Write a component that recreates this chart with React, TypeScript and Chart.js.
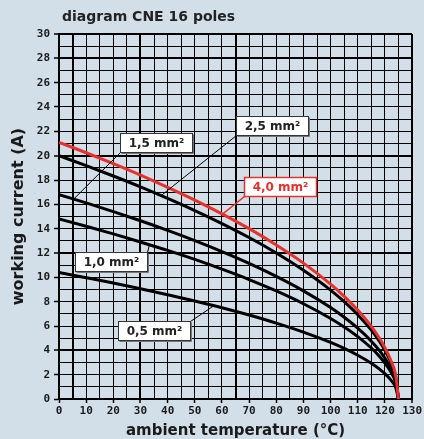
import React, { useEffect, useRef } from "react";
import { Chart, registerables } from "chart.js";

Chart.register(...registerables);

// ---- data ----
const temps = [0, 10, 20, 30, 40, 50, 60, 70, 80, 90, 100, 105, 110, 115, 118, 120, 122, 124, 125];
const cur40 = [21.1, 20.24, 19.34, 18.4, 17.4, 16.35, 15.22, 14.0, 12.66, 11.17, 9.44, 8.44, 7.31, 5.97, 4.99, 4.22, 3.27, 1.89, 0];
const cur25 = [20.0, 19.18, 18.33, 17.44, 16.49, 15.49, 14.42, 13.27, 12.0, 10.58, 8.95, 8.0, 6.93, 5.66, 4.73, 4.0, 3.1, 1.79, 0];
const cur15 = [16.8, 16.12, 15.4, 14.65, 13.86, 13.02, 12.12, 11.15, 10.08, 8.89, 7.52, 6.72, 5.82, 4.75, 3.98, 3.36, 2.6, 1.5, 0];
const cur10 = [14.8, 14.2, 13.57, 12.9, 12.21, 11.47, 10.67, 9.82, 8.88, 7.83, 6.62, 5.92, 5.13, 4.19, 3.5, 2.96, 2.29, 1.32, 0];
const cur05 = [10.4, 9.97, 9.53, 9.06, 8.57, 8.05, 7.5, 6.9, 6.24, 5.5, 4.65, 4.16, 3.6, 2.94, 2.46, 2.08, 1.61, 0.93, 0];

const seriesNames = ["4,0 mm²", "2,5 mm²", "1,5 mm²", "1,0 mm²", "0,5 mm²"];
const seriesValues = [cur40, cur25, cur15, cur10, cur05];

const titleText = "diagram CNE 16 poles";
const xTitle = "ambient temperature (°C)";
const yTitle = "working current (A)";

const xMin = 0, xMax = 130, xGridStep = 5, xLabelStep = 10;
const yMin = 0, yMax = 30, yGridStep = 1, yLabelStep = 2;

// callout boxes (in data units) and where their leader lines meet the curves
const calloutX = [81.4, 78.6, 35.7, 19.2, 35.0];
const calloutY = [17.5, 22.5, 21.1, 11.3, 5.6];
const pointerX = [60.2, 37.6, 5.4, 33.3, 57.0];
const calloutCorner = ["bl", "bl", "bl", "tr", "tr"];

// ---- styles ----
const BG = "#d3dfe8";
const RED = "#e8302c";
const thickX = [5, 30, 65, 130];
const thickY = [4, 12, 20, 28, 30];

function interp(vals: number[], t: number): number {
  for (let i = 0; i < temps.length - 1; i++) {
    if (t >= temps[i] && t <= temps[i + 1]) {
      const f = (t - temps[i]) / (temps[i + 1] - temps[i]);
      return vals[i] + (vals[i + 1] - vals[i]) * f;
    }
  }
  return vals[vals.length - 1];
}

const decorPlugin = {
  id: "decor",
  afterDatasetsDraw(chart: any) {
    const { ctx, scales } = chart;
    const xs = scales.x, ys = scales.y;
    ctx.save();
    seriesNames.forEach((name, i) => {
      const isRed = i === 0;
      ctx.font = "bold 12px 'DejaVu Sans'";
      const tw = ctx.measureText(name).width;
      const w = Math.round(tw + 16), h = 19;
      const cx = xs.getPixelForValue(calloutX[i]);
      const cy = ys.getPixelForValue(calloutY[i]);
      const left = Math.round(cx - w / 2) + 0.5;
      const top = Math.round(cy - h / 2) + 0.5;
      const px = xs.getPixelForValue(pointerX[i]);
      const py = ys.getPixelForValue(interp(seriesValues[i], pointerX[i]));
      const ax = calloutCorner[i] === "bl" ? left : left + w;
      const ay = calloutCorner[i] === "bl" ? top + h : top;
      ctx.beginPath();
      ctx.moveTo(ax, ay);
      ctx.lineTo(px, py);
      ctx.strokeStyle = isRed ? RED : "#000";
      ctx.lineWidth = isRed ? 1.5 : 1;
      ctx.stroke();
      ctx.fillStyle = "#fff";
      ctx.fillRect(left, top, w, h);
      ctx.strokeStyle = isRed ? RED : "#333";
      ctx.lineWidth = isRed ? 1.5 : 1;
      ctx.strokeRect(left, top, w, h);
      // light shadow on right/bottom for black boxes
      if (!isRed) {
        ctx.beginPath();
        ctx.moveTo(left + 1, top + h + 1);
        ctx.lineTo(left + w + 1, top + h + 1);
        ctx.lineTo(left + w + 1, top + 1);
        ctx.strokeStyle = "#777";
        ctx.stroke();
      }
      ctx.fillStyle = isRed ? RED : "#222";
      ctx.textAlign = "center";
      ctx.textBaseline = "middle";
      ctx.fillText(name, left + w / 2, top + h / 2 + 1);
    });
    ctx.restore();
  },
  afterDraw(chart: any) {
    const { ctx, chartArea } = chart;
    ctx.save();
    ctx.font = "bold 14px 'DejaVu Sans'";
    ctx.fillStyle = "#222";
    ctx.textAlign = "left";
    ctx.textBaseline = "alphabetic";
    ctx.fillText(titleText, chartArea.left + 3, 21);
    ctx.restore();
  },
};

export default function App() {
  const ref = useRef<HTMLCanvasElement | null>(null);

  useEffect(() => {
    if (!ref.current) return;
    const datasets = seriesNames.map((name, i) => ({
      label: name,
      data: temps.map((t, j) => ({ x: t, y: seriesValues[i][j] })),
      borderColor: i === 0 ? RED : "#000",
      borderWidth: 3,
      pointRadius: 0,
      fill: false,
      cubicInterpolationMode: "monotone" as const,
    }));
    const chart = new Chart(ref.current, {
      type: "line",
      data: { datasets },
      plugins: [decorPlugin],
      options: {
        animation: false,
        responsive: true,
        maintainAspectRatio: false,
        layout: { padding: { top: 34, right: 11, bottom: 0, left: 0 } },
        plugins: {
          legend: { display: false },
          tooltip: { enabled: false },
          title: { display: false },
        },
        scales: {
          x: {
            type: "linear",
            min: xMin,
            max: xMax,
            afterFit: (s: any) => {
              s.height = 40;
            },
            ticks: {
              stepSize: xGridStep,
              autoSkip: false,
              maxRotation: 0,
              minRotation: 0,
              padding: 2,
              color: "#1a1a1a",
              font: { family: "'DejaVu Sans Mono'", weight: "bold", size: 11 },
              callback: (v: any) => (Number(v) % xLabelStep === 0 ? String(v) : ""),
            },
            grid: {
              color: "#000",
              lineWidth: (c: any) => (c.tick && thickX.includes(c.tick.value) ? 2 : 1),
              tickLength: 4,
              tickWidth: 1.5,
              tickColor: (c: any) =>
                c.tick && c.tick.value % xLabelStep === 0 ? "#000" : "rgba(0,0,0,0)",
            },
            border: { display: true, color: "#000", width: 2 },
            title: {
              display: true,
              text: xTitle,
              color: "#1a1a1a",
              font: { family: "'DejaVu Sans'", weight: "bold", size: 15, lineHeight: 1 },
              padding: { top: 0, bottom: 0 },
            },
          },
          y: {
            type: "linear",
            min: yMin,
            max: yMax,
            afterFit: (s: any) => {
              s.width = 59;
            },
            ticks: {
              stepSize: yGridStep,
              autoSkip: false,
              padding: 4,
              color: "#1a1a1a",
              font: { family: "'DejaVu Sans Mono'", weight: "bold", size: 11 },
              callback: (v: any) => (Number(v) % yLabelStep === 0 ? String(v) : ""),
            },
            grid: {
              color: "#000",
              lineWidth: (c: any) => (c.tick && thickY.includes(c.tick.value) ? 2 : 1),
              tickLength: 5,
              tickWidth: 1.5,
              tickColor: (c: any) =>
                c.tick && c.tick.value % yLabelStep === 0 ? "#000" : "rgba(0,0,0,0)",
            },
            border: { display: true, color: "#000", width: 2 },
            title: {
              display: true,
              text: yTitle,
              color: "#1a1a1a",
              font: { family: "'DejaVu Sans'", weight: "bold", size: 16, lineHeight: 1 },
              padding: { top: 11, bottom: 0 },
            },
          },
        },
      },
    });
    return () => chart.destroy();
  }, []);

  return (
    <div
      style={{
        position: "fixed",
        left: 0,
        top: 0,
        width: 424,
        height: 439,
        background: BG,
      }}
    >
      <canvas ref={ref} />
    </div>
  );
}
